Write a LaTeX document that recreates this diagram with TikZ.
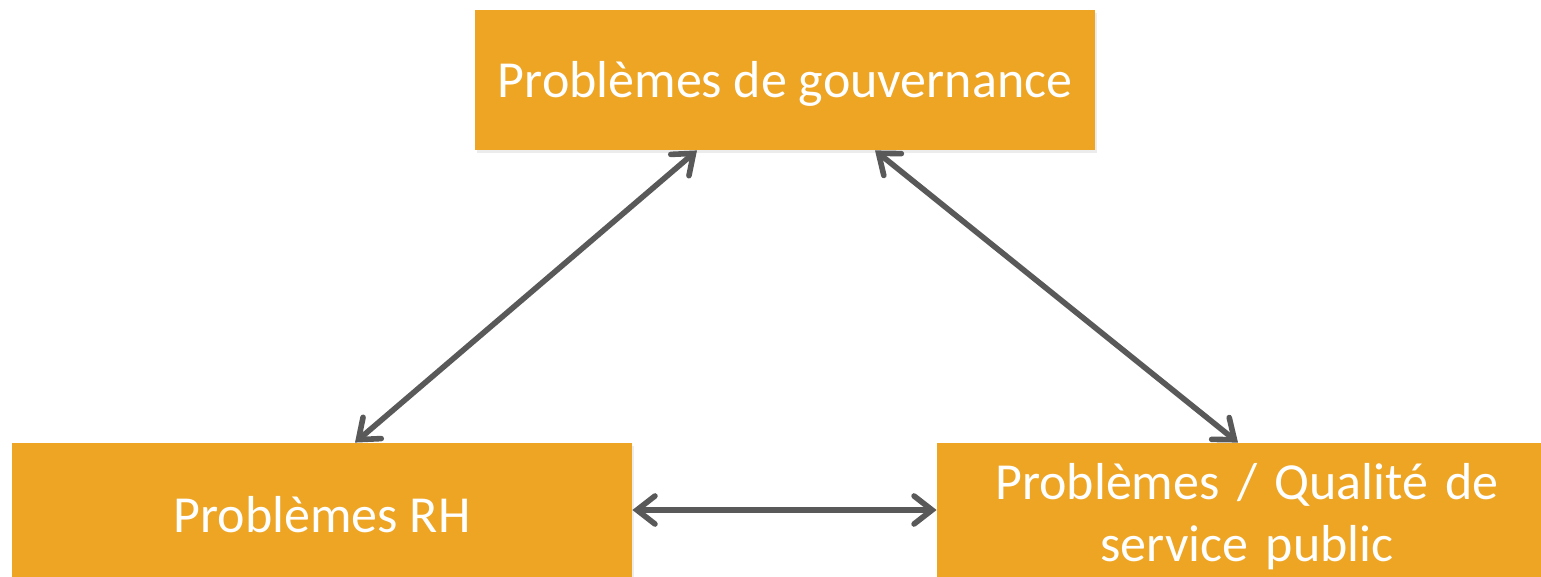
\documentclass[tikz,border=0pt]{standalone}
\usepackage{fontspec}
\setmainfont{Carlito}
\usetikzlibrary{arrows.meta,calc,shadows}
\definecolor{boxorange}{HTML}{EDA523}
\definecolor{arrowgray}{HTML}{595959}
\tikzset{
  probbox/.style={rectangle, fill=boxorange, text=white, align=center,
    font=\fontsize{26}{31}\selectfont, inner sep=0pt,
    drop shadow={opacity=0.15, shadow xshift=1pt, shadow yshift=-1.5pt}},
  link/.style={draw=arrowgray, line width=2.8pt, line cap=round,
    {Straight Barb[length=9pt, width=14pt, line cap=round]}-{Straight Barb[length=9pt, width=14pt, line cap=round]}}
}
\begin{document}
\begin{tikzpicture}[x=0.5pt, y=-0.5pt]
\useasboundingbox (0,0) rectangle (1541,577);
\clip (0,0) rectangle (1541,577);
\node[probbox, minimum width=310pt, minimum height=70pt] (gov) at (785,80) {\raisebox{-2pt}[\height][\depth]{Problèmes de gouvernance}};
\node[probbox, minimum width=310pt, minimum height=72pt] (rh) at (322,515) {Problèmes RH};
\node[probbox, minimum width=310pt, minimum height=74pt, text width=300pt] (qual) at (1247,517) {Problèmes / Qualité de\\service public};
\draw[link] ($(rh.north)+(33,0)$) -- ($(gov.south)+(-88,0)$);
\draw[link] ($(gov.south)+(90,0)$) -- ($(qual.north)+(-9,0)$);
\draw[link] ($(rh.east)+(0,-5)$) -- ($(qual.west |- rh.east)+(0,-5)$);
\end{tikzpicture}
\end{document}
